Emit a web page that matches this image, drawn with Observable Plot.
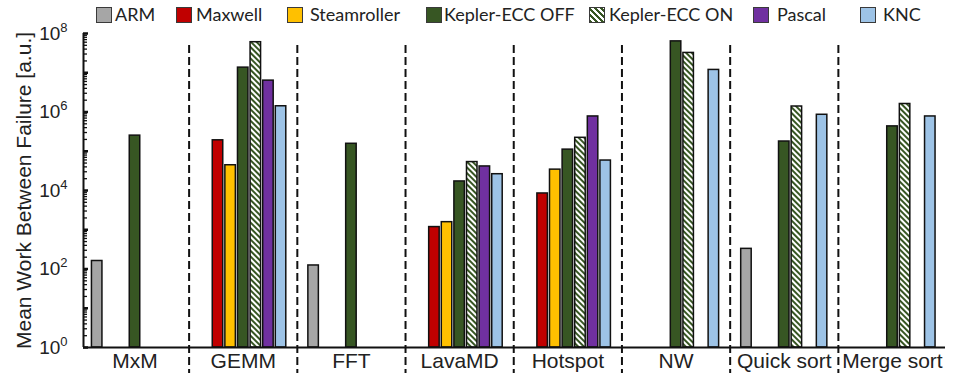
<!DOCTYPE html>
<html>
<head>
<meta charset="utf-8">
<script src="https://cdn.jsdelivr.net/npm/d3@7"></script>
<script src="https://cdn.jsdelivr.net/npm/@observablehq/plot@0.6"></script>
<style>
  html, body { margin: 0; padding: 0; background: #fff; }
  #chart { width: 954px; height: 373px; position: relative; }
  #legend { position: relative; width: 954px; height: 30px; font-family: Lato, "Open Sans", sans-serif; font-size: 18px; color: #222; }
  #legend .sw { position: absolute; top: 7px; width: 14px; height: 14px; border: 1px solid #3a3a3a; }
  #legend .lb { position: absolute; top: 2px; line-height: 24px; white-space: nowrap; }
  #chart svg { display: block; font-family: "Liberation Sans", Arial, sans-serif; }
  #chart svg text { font-family: "Liberation Sans", Arial, sans-serif; }
</style>
</head>
<body>
<div id="chart">
  <div id="legend"></div>
</div>
<script>
// Benchmarks along the x axis
const benchmarks = ["MxM", "GEMM", "FFT", "LavaMD", "Hotspot", "NW", "Quick sort", "Merge sort"];

// Devices, in bar order inside each benchmark
const devices = ["ARM", "Maxwell", "Steamroller", "Kepler-ECC OFF", "Kepler-ECC ON", "Pascal", "KNC"];

// Mean work between failure per device, one entry per benchmark (null = not measured)
const armValues        = [160,   null,   123,    null,  null,   null,   326,    null];
const maxwellValues    = [null,  1.9e5,  null,   1170,  8400,   null,   null,   null];
const steamrollerValues= [null,  4.4e4,  null,   1560,  3.4e4,  null,   null,   null];
const keplerOffValues  = [2.5e5, 1.35e7, 1.55e5, 1.7e4, 1.1e5,  6.3e7,  1.77e5, 4.3e5];
const keplerOnValues   = [null,  6.0e7,  null,   5.3e4, 2.2e5,  3.2e7,  1.38e6, 1.6e6];
const pascalValues     = [null,  6.3e6,  null,   4.1e4, 7.7e5,  null,   null,   null];
const kncValues        = [null,  1.4e6,  null,   2.6e4, 5.8e4,  1.18e7, 8.5e5,  7.7e5];

// Y axis decades that carry a label
const yLabelTicks = [1, 1e2, 1e4, 1e6, 1e8];

const seriesValues = [armValues, maxwellValues, steamrollerValues, keplerOffValues, keplerOnValues, pascalValues, kncValues];

// Fills for each device (the ECC ON bars use a hatch pattern)
const HATCH_ID = "kepler-ecc-on-hatch";
const deviceFills = ["#a6a6a6", "#c00000", "#ffc000", "#375623", `url(#${HATCH_ID})`, "#7030a0", "#9dc3e6"];
const legendFills = ["#a6a6a6", "#c00000", "#ffc000", "#375623",
  "repeating-linear-gradient(45deg, #375623 0 2px, #ffffff 2px 4.2px)", "#7030a0", "#9dc3e6"];

// Flatten to one row per drawn bar
const rows = [];
seriesValues.forEach((vals, si) => {
  vals.forEach((v, gi) => {
    if (v != null) rows.push({benchmark: benchmarks[gi], device: devices[si], gi, si, value: v});
  });
});

// Bar geometry in benchmark units: each benchmark occupies one unit, devices are slots within it
const SLOT = 0.1165;
const HALF_BAR = 0.0485;
const centerSlot = (devices.length - 1) / 2;
const xDomain = [-0.476, benchmarks.length - 0.51];

// Log ticks: decades and the 2..9 subdivisions
const decades = d3.range(0, 9).map(k => Math.pow(10, k));
const minorTicks = d3.range(0, 8).flatMap(k => d3.range(2, 10).map(m => m * Math.pow(10, k)));

const separators = d3.range(1, benchmarks.length).map(i => i - 0.5);

const plot = Plot.plot({
  width: 954,
  height: 343,
  marginLeft: 83,
  marginRight: 9,
  marginTop: 3,
  marginBottom: 26,
  style: {background: "#fff", overflow: "visible", color: "#222"},
  x: {type: "linear", domain: xDomain},
  y: {type: "log", domain: [1, 1e8]},
  color: {domain: devices, range: deviceFills},
  marks: [
    Plot.ruleX(separators, {x: d => d, stroke: "#111", strokeWidth: 2, strokeDasharray: "8,4", insetTop: 12, insetBottom: -26}),
    Plot.rectY(rows, {
      x1: d => d.gi + (d.si - centerSlot) * SLOT - HALF_BAR,
      x2: d => d.gi + (d.si - centerSlot) * SLOT + HALF_BAR,
      y1: () => 1,
      y2: d => d.value,
      fill: "device",
      stroke: "#111",
      strokeWidth: 1.5
    }),
    Plot.axisY({ticks: minorTicks, tickSize: -4, tickFormat: () => "", label: null, stroke: "#111", strokeWidth: 1.3}),
    Plot.axisY({ticks: decades, tickSize: -5, tickFormat: () => "", label: null, stroke: "#111", strokeWidth: 2.5}),
    Plot.axisY({
      ticks: yLabelTicks, tickSize: 0, tickPadding: 16,
      tickFormat: d => String(Math.round(Math.log10(d))),
      fontSize: 19,
      label: "Mean Work Between Failure [a.u.]", labelAnchor: "center", labelOffset: 67, labelArrow: "none"
    }),
    Plot.axisX({
      ticks: d3.range(benchmarks.length), tickSize: 0, tickPadding: 6,
      tickFormat: i => benchmarks[i], fontSize: 21, label: null
    }),
    Plot.ruleY([1], {stroke: "#111", strokeWidth: 2}),
    Plot.ruleX([xDomain[0]], {stroke: "#111", strokeWidth: 2})
  ]
});

// Hatch pattern for the ECC ON bars
const svg = d3.select(plot);
const defs = svg.insert("defs", ":first-child");
const pat = defs.append("pattern")
  .attr("id", HATCH_ID)
  .attr("patternUnits", "userSpaceOnUse")
  .attr("width", 4).attr("height", 4)
  .attr("patternTransform", "rotate(-45)");
pat.append("rect").attr("width", 4).attr("height", 4).attr("fill", "#ffffff");
pat.append("rect").attr("width", 2).attr("height", 4).attr("fill", "#375623");

// Tick labels as 10 with a raised exponent
svg.selectAll('g[aria-label="y-axis tick label"] text').each(function () {
  const k = this.textContent;
  if (!/^\d+$/.test(k)) return;
  const t = d3.select(this);
  t.text("10");
  t.append("tspan").attr("dy", "-0.6em").attr("font-size", 13).text(k);
});
svg.selectAll('g[aria-label="y-axis label"] text').attr("font-size", 21);

document.getElementById("chart").appendChild(plot);

// Legend
const legend = d3.select("#legend");
const swatchLeft = [96, 176, 287, 426, 589, 753, 860];
const textLeft = [115, 196, 310, 444, 609, 777, 883];
devices.forEach((name, i) => {
  legend.append("div").attr("class", "sw")
    .style("left", swatchLeft[i] + "px")
    .style("background", legendFills[i]);
  legend.append("div").attr("class", "lb")
    .style("left", textLeft[i] + "px")
    .text(name);
});
</script>
</body>
</html>
